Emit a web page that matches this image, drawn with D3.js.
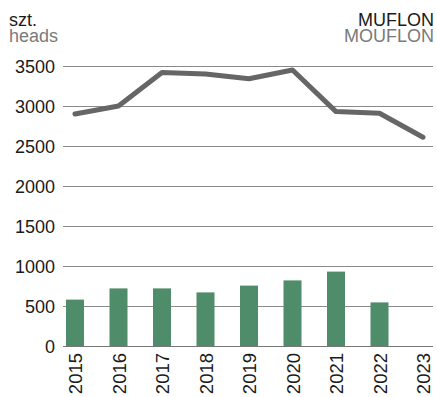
<!DOCTYPE html>
<html>
<head>
<meta charset="utf-8">
<script src="https://cdn.jsdelivr.net/npm/d3@7"></script>
<style>
  html, body { margin: 0; padding: 0; background: #fff; }
  svg { display: block; font-family: "Liberation Sans", Arial, sans-serif; }
</style>
</head>
<body>
<svg id="chart" width="437" height="397"></svg>
<script>
// Mouflon population (line) and harvest (bars), heads
const years = ["2015", "2016", "2017", "2018", "2019", "2020", "2021", "2022", "2023"];
const population = [2900, 3000, 3420, 3400, 3340, 3450, 2930, 2910, 2610];
const harvest = [580, 720, 720, 670, 755, 820, 930, 545, null];
const yTicks = [0, 500, 1000, 1500, 2000, 2500, 3000, 3500];

const svg = d3.select("#chart");
const plotLeft = 63, plotRight = 433, plotTop = 66, plotBottom = 346;

const x = d3.scalePoint().domain(years).range([75, 423]);
const y = d3.scaleLinear().domain([0, 3500]).range([plotBottom, plotTop]);

// Horizontal gridlines
svg.append("g")
  .selectAll("line")
  .data(yTicks)
  .join("line")
  .attr("x1", plotLeft).attr("x2", plotRight)
  .attr("y1", d => Math.round(y(d)) + 0.5)
  .attr("y2", d => Math.round(y(d)) + 0.5)
  .attr("stroke", d => d === 0 ? "#777" : "#8a8a8a")
  .attr("stroke-width", 1);

// Y axis labels
const yAxis = d3.axisLeft(y).tickValues(yTicks).tickFormat(d3.format("d")).tickSize(0).tickPadding(0);
const gy = svg.append("g").attr("transform", "translate(55,0)").call(yAxis);
gy.select(".domain").remove();
gy.selectAll("text")
  .attr("font-size", 18)
  .attr("fill", "#1a1a1a")
  .attr("font-family", "Liberation Sans, Arial, sans-serif")
  .attr("dy", "0.36em");

// Harvest bars
const barW = 18;
svg.append("g")
  .selectAll("rect")
  .data(years.map((yr, i) => ({ yr, v: harvest[i] })).filter(d => d.v != null))
  .join("rect")
  .attr("x", d => x(d.yr) - barW / 2)
  .attr("y", d => y(d.v))
  .attr("width", barW)
  .attr("height", d => y(0) - y(d.v))
  .attr("fill", "#4f8d6a");

// Population line
const line = d3.line()
  .x((d, i) => x(years[i]))
  .y(d => y(d));
svg.append("path")
  .datum(population)
  .attr("d", line)
  .attr("fill", "none")
  .attr("stroke", "#666666")
  .attr("stroke-width", 5)
  .attr("stroke-linejoin", "round")
  .attr("stroke-linecap", "round");

// X axis labels (rotated)
const xAxis = d3.axisBottom(x).tickSize(0).tickPadding(0);
const gx = svg.append("g").attr("transform", `translate(0,${plotBottom})`).call(xAxis);
gx.select(".domain").remove();
gx.selectAll("text")
  .attr("font-size", 18.5)
  .attr("fill", "#1a1a1a")
  .attr("font-family", "Liberation Sans, Arial, sans-serif")
  .attr("transform", "rotate(-90)")
  .attr("text-anchor", "end")
  .attr("x", -7)
  .attr("y", 0)
  .attr("dy", "0.36em");

// Unit and title labels
const title = svg.append("g").attr("font-size", 18);
title.append("text").attr("x", 9).attr("y", 26).attr("fill", "#1a1a1a").text("szt.");
title.append("text").attr("x", 9).attr("y", 42).attr("fill", "#7a7a7a").text("heads");
title.append("text").attr("x", 434).attr("y", 26).attr("text-anchor", "end").attr("fill", "#1a1a1a").text("MUFLON");
title.append("text").attr("x", 434).attr("y", 42).attr("text-anchor", "end").attr("fill", "#7a7a7a").text("MOUFLON");
</script>
</body>
</html>
